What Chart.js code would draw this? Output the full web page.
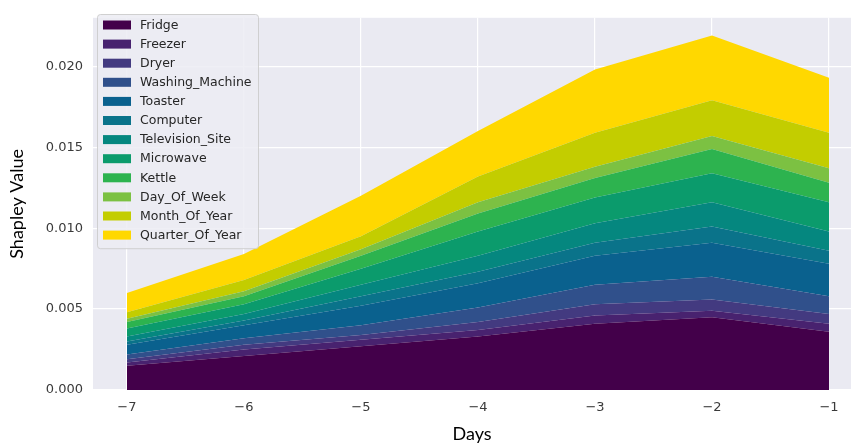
<!DOCTYPE html>
<html>
<head>
<meta charset="utf-8">
<script src="https://cdn.jsdelivr.net/npm/chart.js@4.4.1/dist/chart.umd.min.js"></script>
<style>
    html, body { margin: 0; padding: 0; background: #fff; }
    #wrap { width: 851px; height: 445px; }
</style>
</head>
<body>
<div id="wrap"><canvas id="chart" width="851" height="445"></canvas></div>
<script>
const days = [-7, -6, -5, -4, -3, -2, -1];
const xTicks = [-7, -6, -5, -4, -3, -2, -1];
const yTicks = [0, 0.005, 0.01, 0.015, 0.02];

const labels = ['Fridge', 'Freezer', 'Dryer', 'Washing_Machine', 'Toaster', 'Computer',
    'Television_Site', 'Microwave', 'Kettle', 'Day_Of_Week', 'Month_Of_Year', 'Quarter_Of_Year'];

const fridge    = [0.0015, 0.0021, 0.0027, 0.0033, 0.0041, 0.0045, 0.0036];
const freezer   = [0.0002, 0.0004, 0.0004, 0.0004, 0.0005, 0.0004, 0.0005];
const dryer     = [0.0002, 0.0003, 0.0003, 0.0005, 0.0007, 0.0007, 0.0006];
const washing   = [0.0003, 0.0004, 0.0006, 0.0009, 0.0012, 0.0014, 0.0011];
const toaster   = [0.0006, 0.0008, 0.0012, 0.0015, 0.0018, 0.0021, 0.0020];
const computer  = [0.0002, 0.0003, 0.0006, 0.0007, 0.0008, 0.0010, 0.0008];
const tvSite    = [0.0003, 0.0004, 0.0007, 0.0010, 0.0012, 0.0015, 0.0012];
const microwave = [0.0005, 0.0006, 0.0010, 0.0015, 0.0016, 0.0018, 0.0018];
const kettle    = [0.0004, 0.0005, 0.0008, 0.0011, 0.0012, 0.0015, 0.0012];
const dayOfWeek = [0.0002, 0.0003, 0.0004, 0.0007, 0.0007, 0.0008, 0.0009];
const monthOfYr = [0.0004, 0.0007, 0.0008, 0.0016, 0.0021, 0.0022, 0.0022];
const quarterYr = [0.0012, 0.0016, 0.0025, 0.0028, 0.0039, 0.0040, 0.0034];

const series = [fridge, freezer, dryer, washing, toaster, computer,
    tvSite, microwave, kettle, dayOfWeek, monthOfYr, quarterYr];

const colors = ['#43004a', '#48226f', '#433a80', '#30508b', '#0a618e', '#0a738a',
    '#05877f', '#0b9b6c', '#2db34f', '#7cc142', '#c3cd00', '#ffd800'];

const datasets = series.map((vals, i) => ({
    label: labels[i],
    data: vals.map((v, j) => ({ x: days[j], y: v })),
    backgroundColor: colors[i],
    borderColor: colors[i],
    borderWidth: 0,
    pointRadius: 0,
    tension: 0,
    fill: i === 0 ? 'origin' : '-1',
}));

// seaborn-ish grey panel behind the plot
const panelBg = {
    id: 'panelBg',
    beforeDraw(chart) {
        const { ctx, chartArea: a } = chart;
        ctx.save();
        ctx.fillStyle = '#eaeaf2';
        ctx.fillRect(a.left, a.top, a.right - a.left, a.bottom - a.top);
        ctx.restore();
    }
};

// legend drawn inside the plot, top-left
const innerLegend = {
    id: 'innerLegend',
    afterDraw(chart) {
        const { ctx } = chart;
        const x0 = 97.5, y0 = 14.5, w = 161, rowH = 19.1;
        const h = rowH * labels.length + 5;
        ctx.save();
        ctx.beginPath();
        ctx.roundRect(x0, y0, w, h, 3);
        ctx.fillStyle = 'rgba(236,236,243,0.85)';
        ctx.fill();
        ctx.strokeStyle = 'rgba(204,204,204,0.9)';
        ctx.lineWidth = 1;
        ctx.stroke();
        ctx.font = '12.5px "DejaVu Sans"';
        ctx.textBaseline = 'middle';
        chart.data.datasets.forEach((d, i) => {
            const cy = 25 + i * rowH;
            ctx.fillStyle = d.backgroundColor;
            ctx.fillRect(103, cy - 4.5, 28, 9);
            ctx.fillStyle = '#262626';
            ctx.fillText(d.label, 140, cy + 0.5);
        });
        ctx.restore();
    }
};

new Chart(document.getElementById('chart'), {
    type: 'line',
    data: { datasets },
    plugins: [panelBg, innerLegend],
    options: {
        responsive: false,
        animation: false,
        layout: { padding: { top: 8, right: 0, left: 0, bottom: 0 } },
        plugins: { legend: { display: false }, tooltip: { enabled: false } },
        scales: {
            x: {
                type: 'linear',
                min: -7.29,
                max: -0.812,
                afterBuildTicks: s => { s.ticks = xTicks.map(v => ({ value: v })); },
                afterFit: s => { s.height = 55; },
                grid: { color: '#ffffff', lineWidth: 1.2, drawTicks: false },
                border: { display: false },
                ticks: {
                    padding: 10,
                    color: '#3a3a3a',
                    font: { family: 'DejaVu Sans', size: 13 },
                    callback: v => String(v).replace('-', '\u2212'),
                },
                title: {
                    display: true,
                    text: 'Days',
                    color: '#000',
                    font: { family: 'Lato', size: 18 },
                    padding: { top: 5, bottom: 0 },
                },
            },
            y: {
                stacked: true,
                min: 0,
                max: 0.023,
                afterBuildTicks: s => { s.ticks = yTicks.map(v => ({ value: v })); },
                afterFit: s => { s.width = 93; },
                grid: { color: '#ffffff', lineWidth: 1.2, drawTicks: false },
                border: { display: false },
                ticks: {
                    padding: 10,
                    color: '#3a3a3a',
                    font: { family: 'DejaVu Sans', size: 13 },
                    callback: v => v.toFixed(3),
                },
                title: {
                    display: true,
                    text: 'Shapley Value',
                    color: '#000',
                    font: { family: 'Lato', size: 18 },
                    padding: { top: 6, bottom: 4 },
                },
            },
        },
    },
});
</script>
</body>
</html>
